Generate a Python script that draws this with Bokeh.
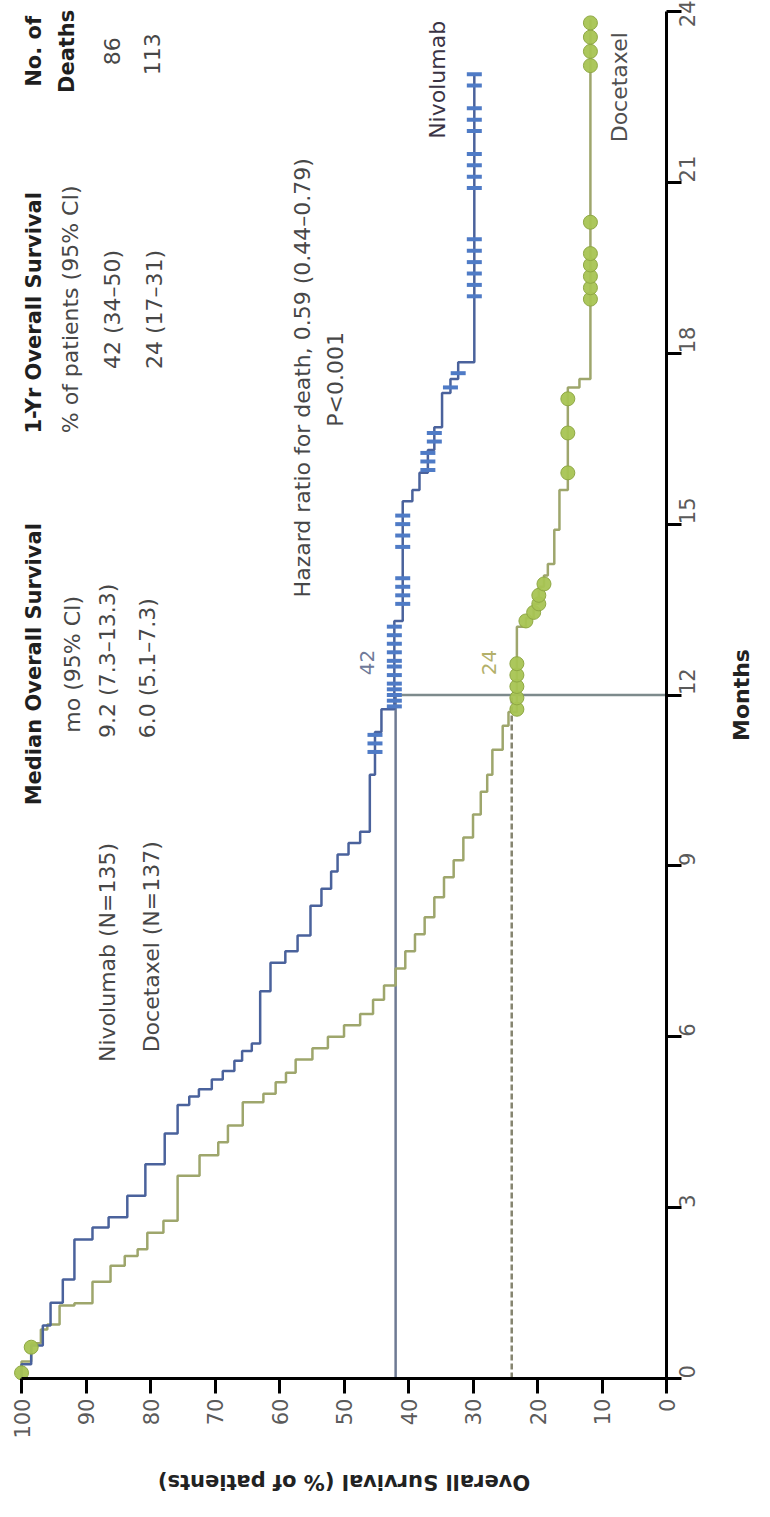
import math
from bokeh.plotting import figure
from bokeh.models import Range1d, FixedTicker, Label, ColumnDataSource
from bokeh.embed import file_html
from bokeh.resources import INLINE

# ---------------- data ----------------
month_ticks = [0, 3, 6, 9, 12, 15, 18, 21, 24]
surv_ticks = [0, 10, 20, 30, 40, 50, 60, 70, 80, 90, 100]

# Nivolumab: event times (months) and survival (%) right after each drop
nivo_t = [0.25, 0.58, 0.93, 1.33, 1.74, 2.44, 2.65, 2.83, 3.21, 3.76, 4.30, 4.80,
          4.95, 5.08, 5.25, 5.40, 5.58, 5.75, 5.88, 6.80, 7.30, 7.50, 7.78, 8.30,
          8.60, 8.90, 9.20, 9.40, 9.60, 10.60, 11.35, 11.75, 13.30, 15.40, 15.60,
          15.90, 16.30, 16.70, 17.30, 17.55, 17.84]
nivo_s = [98.5, 96.7, 95.5, 93.6, 91.8, 89.0, 86.5, 83.6, 80.8, 77.8, 75.8, 74.0,
          72.5, 70.5, 68.8, 67.0, 65.8, 64.3, 63.0, 61.4, 59.1, 57.2, 55.2, 53.5,
          52.0, 51.0, 49.3, 47.5, 46.0, 45.2, 44.2, 42.2, 40.9, 39.4, 38.3,
          37.0, 36.0, 34.8, 33.5, 32.3, 29.8]
nivo_end = 22.9
nivo_cens = [11.0, 11.15, 11.3, 11.8, 11.9, 12.0, 12.1, 12.2, 12.35, 12.5, 12.6,
             12.75, 12.9, 13.05, 13.2, 13.6, 13.75, 13.9, 14.05, 14.6, 14.8, 15.0,
             15.15, 15.95, 16.1, 16.25, 16.45, 16.6, 17.4, 17.65, 19.0, 19.2, 19.4,
             19.6, 19.8, 20.0, 20.9, 21.1, 21.3, 21.5, 21.9, 22.1, 22.3, 22.7, 22.9]

# Docetaxel
doce_t = [0.30, 0.62, 0.86, 0.95, 1.28, 1.32, 1.70, 1.98, 2.15, 2.27, 2.56, 2.77,
          3.56, 3.92, 4.15, 4.44, 4.85, 5.00, 5.20, 5.37, 5.60, 5.80, 6.00, 6.20,
          6.40, 6.65, 6.90, 7.20, 7.50, 7.80, 8.10, 8.45, 8.80, 9.10, 9.50, 9.90,
          10.30, 10.60, 11.04, 11.46, 11.70, 13.20, 13.35, 13.60, 13.90, 14.10,
          14.30, 14.90, 15.60, 17.40, 17.55]
doce_s = [98.5, 97.0, 96.0, 94.1, 91.8, 89.0, 86.2, 84.0, 82.0, 80.5, 78.0, 75.8,
          72.4, 69.5, 68.0, 65.7, 62.5, 60.6, 59.0, 57.5, 54.9, 52.5, 50.0, 47.5,
          45.5, 43.8, 42.0, 40.5, 39.0, 37.5, 36.0, 34.5, 33.0, 31.5, 30.0, 28.8,
          27.8, 27.0, 25.4, 24.5, 23.2, 21.8, 20.6, 19.8, 19.0, 18.4,
          17.4, 16.6, 15.3, 13.5, 11.8]
doce_end = 23.86
doce_cens = [0.1, 0.55, 11.75, 11.95, 12.15, 12.35, 12.55, 13.3, 13.45, 13.6, 13.75,
             13.95, 15.9, 16.6, 17.2, 18.95, 19.15, 19.35, 19.55, 19.75, 20.3, 23.05,
             23.3, 23.55, 23.8]

landmark_month = 12
nivo_1yr = 42
doce_1yr = 24

# ---------------- helpers ----------------
def km_path(times, surv, end):
    xs, ys = [100.0], [0.0]
    prev = 100.0
    for t, s in zip(times, surv):
        xs += [prev, s]
        ys += [t, t]
        prev = s
    xs.append(prev)
    ys.append(end)
    return xs, ys


def surv_at(times, surv, t0):
    val = 100.0
    for t, s in zip(times, surv):
        if t <= t0:
            val = s
    return val


FONT = "DejaVu Sans"
BLUE_LINE = "#4a629c"
BLUE_MARK = "#4f7bc6"
GREEN_LINE = "#9ea66c"
GREEN_MARK = "#a8c453"

# The frame covers the whole canvas; both axes sit at fixed data locations
p = figure(frame_width=754, frame_height=1501,
           x_range=Range1d(103.26, -13.64), y_range=Range1d(-2.159, 24.193),
           x_axis_location="below", y_axis_location="right",
           output_backend="svg", toolbar_location=None,
           min_border_left=0, min_border_top=0,
           min_border_right=0, min_border_bottom=0)
p.outline_line_color = None
p.grid.visible = False
p.background_fill_color = "white"

# reference lines
p.line(x=[nivo_1yr, nivo_1yr], y=[0, landmark_month], line_color="#6e7a93", line_width=2.5)
p.line(x=[doce_1yr, doce_1yr], y=[0, landmark_month], line_color="#85846f", line_width=2.5,
       line_dash="6 3")
p.line(x=[nivo_1yr, 0], y=[landmark_month, landmark_month], line_color="#7d8a8c", line_width=2.5)

# curves
dx, dy = km_path(doce_t, doce_s, doce_end)
p.line(x=dx, y=dy, line_color=GREEN_LINE, line_width=2.5)
nx, ny = km_path(nivo_t, nivo_s, nivo_end)
p.line(x=nx, y=ny, line_color=BLUE_LINE, line_width=2.5)

dsrc = ColumnDataSource(dict(x=[surv_at(doce_t, doce_s, c) for c in doce_cens], y=doce_cens))
p.scatter(x="x", y="y", source=dsrc, marker="circle", size=14,
          fill_color=GREEN_MARK, line_color="#8fa844", fill_alpha=0.95, line_width=1)
nsrc = ColumnDataSource(dict(x=[surv_at(nivo_t, nivo_s, c) for c in nivo_cens], y=nivo_cens))
p.scatter(x="x", y="y", source=nsrc, marker="dash", size=15,
          line_color=BLUE_MARK, line_width=4)

# axes
xa = p.xaxis[0]
xa.ticker = FixedTicker(ticks=surv_ticks)
xa.major_label_orientation = math.pi / 2
xa.fixed_location = 0
xa.bounds = (0, 100)
ya = p.yaxis[0]
ya.ticker = FixedTicker(ticks=month_ticks)
ya.major_label_orientation = math.pi / 2
ya.fixed_location = 0
ya.bounds = (0, 24)
for ax in (xa, ya):
    ax.axis_line_width = 3
    ax.axis_line_color = "black"
    ax.major_tick_line_width = 3
    ax.major_tick_line_color = "black"
    ax.major_tick_out = 15
    ax.major_tick_in = 0
    ax.minor_tick_out = 0
    ax.minor_tick_in = 0
    ax.major_label_text_font = FONT
    ax.major_label_text_font_size = "21px"
    ax.major_label_text_color = "#5a5a5a"
    ax.major_label_standoff = 5

# axis titles
p.add_layout(Label(x=50, y=-1.82, text="Overall Survival (% of patients)", angle=math.pi,
                   text_align="center", text_baseline="middle", text_font=FONT,
                   text_font_size="21px", text_font_style="bold", text_color="#222222"))
p.add_layout(Label(x=-11.7, y=12, text="Months", angle=math.pi / 2,
                   text_align="center", text_baseline="middle", text_font=FONT,
                   text_font_size="22px", text_font_style="bold", text_color="#222222"))


def add_text(txt, x, y, size="22px", bold=False, color="#474747", align="center"):
    p.add_layout(Label(x=x, y=y, text=txt, angle=math.pi / 2, text_align=align,
                       text_baseline="middle", text_font=FONT, text_font_size=size,
                       text_font_style="bold" if bold else "normal", text_color=color))


HEAD = "#1f1f1f"
# No. of deaths
add_text("No. of", 98.1, 23.3, size="21px", bold=True, color=HEAD)
add_text("Deaths", 92.9, 23.3, size="21px", bold=True, color=HEAD)
add_text("86", 85.9, 23.3)
add_text("113", 79.7, 23.25)
# 1-yr OS
add_text("1-Yr Overall Survival", 98.1, 18.71, size="21px", bold=True, color=HEAD)
add_text("% of patients (95% CI)", 92.4, 18.77)
add_text("42 (34\u201350)", 85.9, 18.77)
add_text("24 (17\u201331)", 79.4, 18.77)
# Median OS
add_text("Median Overall Survival", 98.1, 12.54, size="21px", bold=True, color=HEAD)
add_text("mo (95% CI)", 92.1, 12.54)
add_text("9.2 (7.3\u201313.3)", 86.7, 12.60)
add_text("6.0 (5.1\u20137.3)", 80.5, 12.47)
# arms
add_text("Nivolumab (N=135)", 86.7, 7.48)
add_text("Docetaxel (N=137)", 79.8, 7.58)
# hazard ratio
add_text("Hazard ratio for death, 0.59 (0.44\u20130.79)", 56.4, 17.57)
add_text("P<0.001", 51.3, 17.54)
# curve labels
add_text("Nivolumab", 35.5, 22.8, color="#3a3344")
add_text("Docetaxel", 7.3, 22.67, color="#4f4f4f")
add_text("42", 46.4, 12.57, size="20px", color="#6f7a99")
add_text("24", 27.6, 12.57, size="20px", color="#b3b06a")

open("out.html", "w").write(file_html(p, INLINE))
